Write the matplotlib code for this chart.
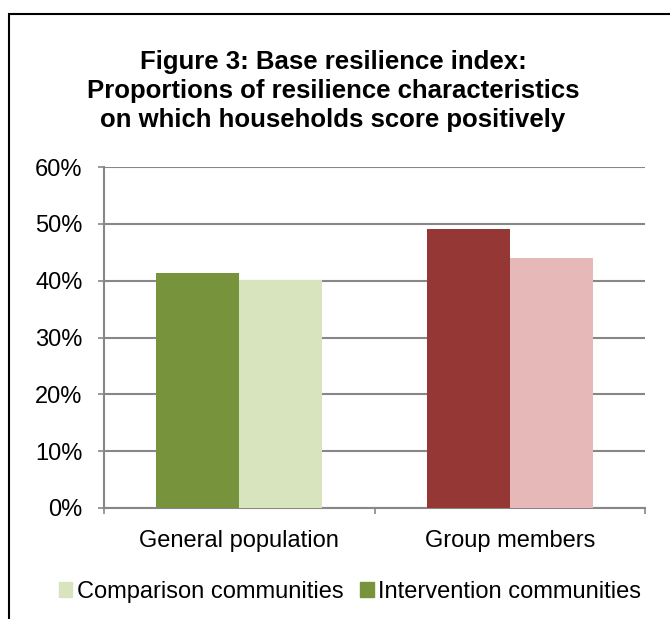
import numpy as np
import matplotlib
matplotlib.use('Agg')
import matplotlib.pyplot as plt
from matplotlib.patches import Rectangle
from matplotlib.ticker import FixedLocator, NullFormatter

plt.rcParams['font.family'] = ['Liberation Sans', 'DejaVu Sans']

# data
groups = ['General population', 'Group members']
intervention = [41.4, 49.1]
comparison = [40.2, 44.0]
interv_colors = ['#77933C', '#953735']
comp_colors = ['#D7E4BD', '#E6B9B8']
yticks = [0, 10, 20, 30, 40, 50, 60]
title = ('Figure 3: Base resilience index:\n'
         'Proportions of resilience characteristics\n'
         'on which households score positively')

W, H = 670, 619
fig = plt.figure(figsize=(W / 100, H / 100), dpi=100)
ax = fig.add_axes([104 / W, 1 - 508 / H, 541 / W, 341 / H])

x = np.arange(len(groups))
w = 0.307
ax.bar(x - w / 2, intervention, w, color=interv_colors, zorder=3)
ax.bar(x + w / 2, comparison, w, color=comp_colors, zorder=3)

ax.set_xlim(-0.5, len(groups) - 0.5)
ax.set_ylim(0, 60)
ax.set_yticks(yticks)
ax.set_yticklabels(['{}%'.format(t) for t in yticks], fontsize=17)
ax.yaxis.grid(True, color='#878787', lw=1.5, zorder=0)

ax.set_xticks(x)
ax.set_xticklabels(groups, fontsize=17)
ax.tick_params(axis='x', length=0, pad=16)
# category boundary ticks
ax.xaxis.set_minor_locator(FixedLocator([-0.5, 0.5, 1.5]))
ax.xaxis.set_minor_formatter(NullFormatter())
ax.tick_params(axis='x', which='minor', length=4.5, width=1.2, color='#878787', direction='out')
ax.tick_params(axis='y', length=4.5, width=1.2, color='#878787', pad=11)

for s in ['top', 'right']:
    ax.spines[s].set_visible(False)
for s in ['left', 'bottom']:
    ax.spines[s].set_color('#878787')
    ax.spines[s].set_linewidth(1.5)

fig.text(0.497, 1 - 50 / H, title, ha='center', va='top', fontsize=18.5,
         fontweight='bold', linespacing=1.25)

# legend (only the green pair appears in the original)
handles = [Rectangle((0, 0), 1, 1, color=comp_colors[0]),
           Rectangle((0, 0), 1, 1, color=interv_colors[0])]
fig.legend(handles, ['Comparison communities', 'Intervention communities'],
           loc='center', bbox_to_anchor=(350 / W, 1 - 592 / H), ncol=2, frameon=False,
           fontsize=17, handlelength=0.58, handleheight=0.58, handletextpad=0.2,
           columnspacing=0.7, borderpad=0)

# outer chart border (cut off at right and bottom in the original)
fig.patches.append(Rectangle((9 / W, -0.1), 1.2, 1.1 - 14 / H, transform=fig.transFigure,
                             fill=False, ec='black', lw=1.5))

fig.savefig('out.png', dpi=100)
